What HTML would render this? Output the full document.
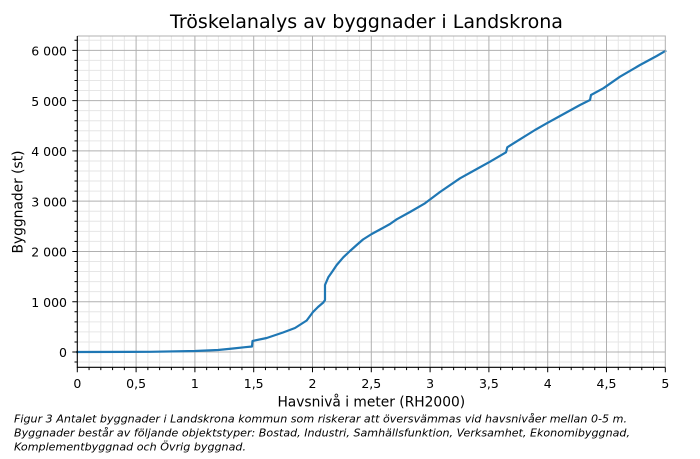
<!DOCTYPE html>
<html><head><meta charset="utf-8"><style>
html,body{margin:0;padding:0;background:#fff;}
svg{display:block;}
text{font-family:"DejaVu Sans","Liberation Sans",sans-serif;fill:#000;}
</style></head><body>
<svg width="700" height="459" viewBox="0 0 700 459" xmlns="http://www.w3.org/2000/svg">
<rect width="700" height="459" fill="#fff"/>
<!-- minor grid -->
<path fill="none" stroke="#e6e6e6" stroke-width="1" d="
M89.06 36V367.3M100.82 36V367.3M112.58 36V367.3M124.34 36V367.3
M147.86 36V367.3M159.62 36V367.3M171.38 36V367.3M183.14 36V367.3
M206.66 36V367.3M218.42 36V367.3M230.18 36V367.3M241.94 36V367.3
M265.46 36V367.3M277.22 36V367.3M288.98 36V367.3M300.74 36V367.3
M324.26 36V367.3M336.02 36V367.3M347.78 36V367.3M359.54 36V367.3
M383.06 36V367.3M394.82 36V367.3M406.58 36V367.3M418.34 36V367.3
M441.86 36V367.3M453.62 36V367.3M465.38 36V367.3M477.14 36V367.3
M500.66 36V367.3M512.42 36V367.3M524.18 36V367.3M535.94 36V367.3
M559.46 36V367.3M571.22 36V367.3M582.98 36V367.3M594.74 36V367.3
M618.26 36V367.3M630.02 36V367.3M641.78 36V367.3M653.54 36V367.3
M77.3 362.06H665.3M77.3 341.94H665.3M77.3 331.89H665.3M77.3 321.83H665.3M77.3 311.78H665.3
M77.3 291.66H665.3M77.3 281.61H665.3M77.3 271.55H665.3M77.3 261.5H665.3
M77.3 241.38H665.3M77.3 231.33H665.3M77.3 221.27H665.3M77.3 211.22H665.3
M77.3 191.1H665.3M77.3 181.05H665.3M77.3 170.99H665.3M77.3 160.94H665.3
M77.3 140.82H665.3M77.3 130.77H665.3M77.3 120.71H665.3M77.3 110.66H665.3
M77.3 90.54H665.3M77.3 80.49H665.3M77.3 70.43H665.3M77.3 60.38H665.3
M77.3 40.26H665.3"/>
<!-- major grid -->
<path fill="none" stroke="#b0b0b0" stroke-width="1" d="
M136.1 36V367.3M194.9 36V367.3M253.7 36V367.3M312.5 36V367.3M371.3 36V367.3
M430.1 36V367.3M488.9 36V367.3M547.7 36V367.3M606.5 36V367.3
M77.3 352H665.3M77.3 301.72H665.3M77.3 251.44H665.3M77.3 201.16H665.3M77.3 150.88H665.3M77.3 100.6H665.3M77.3 50.32H665.3"/>
<!-- data line -->
<polyline fill="none" stroke="#1f77b4" stroke-width="2.2" stroke-linejoin="round" stroke-linecap="square" points="
77.3,352 150,351.8 195,351 218,350 233,348.5 245,347.2 252,346.5 252.5,341
266.7,338 283,332.5 295,328 306.7,320.5 313,312 318,307 323.3,302.5 325,300 325,285
328.3,277.3 332,272 336.7,265 343.3,257.3 350,251 356.7,245 363,239.5 371.7,234
380,229.5 390,224 396.7,219.3 410,212 425,203.3 440,192 460,178.3 475,170 490,161.7
506,152.3 507.3,147.3 520,139.3 535,130 546.7,123.3 560,116 570,110.5 580,105 590,100
591,95 603.3,88.3 620,76.7 640,65 656.7,56 665.3,51"/>
<!-- spines -->
<path fill="none" stroke="#b0b0b0" stroke-width="1" d="M77.3 36H665.3V367.3"/>
<path fill="none" stroke="#000" stroke-width="1.1" d="M77.3 36V367.3H665.3"/>
<!-- x ticks -->
<path fill="none" stroke="#000" stroke-width="1" d="
M77.3 367.3v5M136.1 367.3v5M194.9 367.3v5M253.7 367.3v5M312.5 367.3v5M371.3 367.3v5
M430.1 367.3v5M488.9 367.3v5M547.7 367.3v5M606.5 367.3v5M665.3 367.3v5
M89.06 367.3v2.8M100.82 367.3v2.8M112.58 367.3v2.8M124.34 367.3v2.8
M147.86 367.3v2.8M159.62 367.3v2.8M171.38 367.3v2.8M183.14 367.3v2.8
M206.66 367.3v2.8M218.42 367.3v2.8M230.18 367.3v2.8M241.94 367.3v2.8
M265.46 367.3v2.8M277.22 367.3v2.8M288.98 367.3v2.8M300.74 367.3v2.8
M324.26 367.3v2.8M336.02 367.3v2.8M347.78 367.3v2.8M359.54 367.3v2.8
M383.06 367.3v2.8M394.82 367.3v2.8M406.58 367.3v2.8M418.34 367.3v2.8
M441.86 367.3v2.8M453.62 367.3v2.8M465.38 367.3v2.8M477.14 367.3v2.8
M500.66 367.3v2.8M512.42 367.3v2.8M524.18 367.3v2.8M535.94 367.3v2.8
M559.46 367.3v2.8M571.22 367.3v2.8M582.98 367.3v2.8M594.74 367.3v2.8
M618.26 367.3v2.8M630.02 367.3v2.8M641.78 367.3v2.8M653.54 367.3v2.8"/>
<!-- y ticks -->
<path fill="none" stroke="#000" stroke-width="1" d="
M77.3 352h-5M77.3 301.72h-5M77.3 251.44h-5M77.3 201.16h-5M77.3 150.88h-5M77.3 100.6h-5M77.3 50.32h-5
M77.3 362.06h-2.8M77.3 341.94h-2.8M77.3 331.89h-2.8M77.3 321.83h-2.8M77.3 311.78h-2.8
M77.3 291.66h-2.8M77.3 281.61h-2.8M77.3 271.55h-2.8M77.3 261.5h-2.8
M77.3 241.38h-2.8M77.3 231.33h-2.8M77.3 221.27h-2.8M77.3 211.22h-2.8
M77.3 191.1h-2.8M77.3 181.05h-2.8M77.3 170.99h-2.8M77.3 160.94h-2.8
M77.3 140.82h-2.8M77.3 130.77h-2.8M77.3 120.71h-2.8M77.3 110.66h-2.8
M77.3 90.54h-2.8M77.3 80.49h-2.8M77.3 70.43h-2.8M77.3 60.38h-2.8
M77.3 40.26h-2.8"/>
<!-- x tick labels -->
<g font-size="12.5" text-anchor="middle">
<text x="77.3" y="388">0</text>
<text x="136.1" y="388">0,5</text>
<text x="194.9" y="388">1</text>
<text x="253.7" y="388">1,5</text>
<text x="312.5" y="388">2</text>
<text x="371.3" y="388">2,5</text>
<text x="430.1" y="388">3</text>
<text x="488.9" y="388">3,5</text>
<text x="547.7" y="388">4</text>
<text x="606.5" y="388">4,5</text>
<text x="665.3" y="388">5</text>
</g>
<!-- y tick labels -->
<g font-size="12.5" text-anchor="end">
<text x="67" y="357.2">0</text>
<text x="67" y="306.9">1 000</text>
<text x="67" y="256.6">2 000</text>
<text x="67" y="206.4">3 000</text>
<text x="67" y="156.1">4 000</text>
<text x="67" y="105.8">5 000</text>
<text x="67" y="55.5">6 000</text>
</g>
<!-- axis labels -->
<text x="371.3" y="406.7" font-size="13.8" text-anchor="middle">Havsnivå i meter (RH2000)</text>
<text transform="translate(22.3,202) rotate(-90)" font-size="13.8" text-anchor="middle">Byggnader (st)</text>
<!-- title -->
<text x="170" y="28" font-size="19" textLength="393" lengthAdjust="spacingAndGlyphs">Tröskelanalys av byggnader i Landskrona</text>
<!-- caption -->
<g font-size="11" font-style="italic">
<text x="14" y="422.7" textLength="613" lengthAdjust="spacingAndGlyphs">Figur 3 Antalet byggnader i Landskrona kommun som riskerar att översvämmas vid havsnivåer mellan 0-5 m.</text>
<text x="14" y="436.7" textLength="616" lengthAdjust="spacingAndGlyphs">Byggnader består av följande objektstyper: Bostad, Industri, Samhällsfunktion, Verksamhet, Ekonomibyggnad,</text>
<text x="14" y="450.7" textLength="232" lengthAdjust="spacingAndGlyphs">Komplementbyggnad och Övrig byggnad.</text>
</g>
</svg>
</body></html>
